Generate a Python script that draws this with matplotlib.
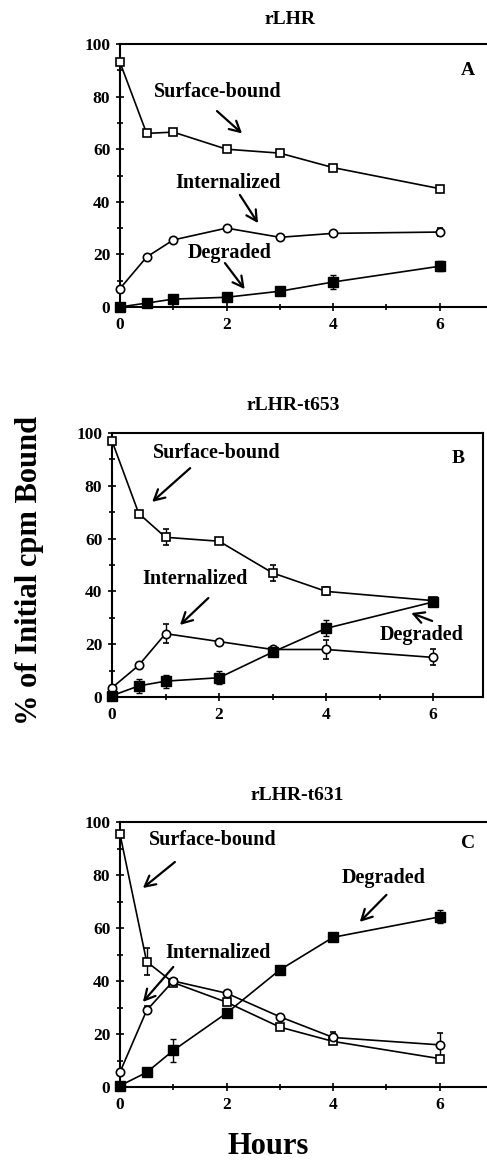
import matplotlib
matplotlib.use("Agg")
import matplotlib.pyplot as plt

plt.rcParams["font.family"] = ["Liberation Serif", "DejaVu Serif"]
plt.rcParams["font.weight"] = "bold"

# time points (hours)
hours = [0, 0.5, 1, 2, 3, 4, 6]

# panel A - rLHR
surf_A = [93, 66, 66.5, 60, 58.5, 53, 45]
surf_A_err = [1, 0, 1, 0, 0, 0, 0.5]
int_A = [7, 19, 25.5, 30, 26.5, 28, 28.5]
int_A_err = [0, 0, 0, 0, 0, 0, 1.5]
deg_A = [0, 1.5, 3, 3.7, 6, 9.5, 15.5]
deg_A_err = [0, 0.5, 1.5, 0, 0, 2.5, 2]

# panel B - rLHR-t653
surf_B = [97, 69.5, 60.5, 59, 47, 40, 36.5]
surf_B_err = [1, 1, 3, 0.5, 3, 1.5, 0]
int_B = [3.5, 12, 24, 21, 18, 18, 15]
int_B_err = [0, 0, 3.5, 0, 0, 3.5, 3]
deg_B = [0.5, 4.2, 6, 7.3, 17, 26, 36]
deg_B_err = [0, 2.5, 2.5, 2.5, 0, 3, 0.5]

# panel C - rLHR-t631
surf_C = [95.4, 47.3, 39.4, 32, 22.6, 17.2, 10.7]
surf_C_err = [0, 5, 0, 0, 0, 0, 1]
int_C = [5.6, 28.9, 40, 35.4, 26.5, 18.7, 15.9]
int_C_err = [0, 1.5, 0, 0, 0, 2, 4.5]
deg_C = [0.5, 5.5, 13.8, 27.9, 44.2, 56.5, 64.2]
deg_C_err = [0, 0, 4.5, 0, 0, 0.5, 2.5]

W, H = 487, 1160
fig = plt.figure(figsize=(W / 100, H / 100), dpi=100)


def px_axes(left, right, top, bottom):
    return fig.add_axes([left / W, 1 - bottom / H, (right - left) / W, (bottom - top) / H])


panels = [
    dict(title="rLHR", title_xy=(290, 20), box=(120, 493, 44, 307), xmax=7.0, right=False,
         surf=(surf_A, surf_A_err), intl=(int_A, int_A_err), deg=(deg_A, deg_A_err),
         notes=[("Surface-bound", (1.84, 81.7), (1.82, 74.5), (2.29, 66)),
                ("Internalized", (2.03, 47.0), (2.25, 42.6), (2.59, 31.9)),
                ("Degraded", (2.06, 20.5), (1.97, 16.7), (2.34, 6.8))],
         letter=("A", 6.53, 90)),
    dict(title="rLHR-t653", title_xy=(293, 405), box=(112, 483, 433, 697), xmax=6.93, right=True,
         surf=(surf_B, surf_B_err), intl=(int_B, int_B_err), deg=(deg_B, deg_B_err),
         notes=[("Surface-bound", (1.96, 92.4), (1.46, 86.7), (0.75, 73.9)),
                ("Internalized", (1.55, 44.7), (1.80, 37.5), (1.27, 27.3)),
                ("Degraded", (5.79, 23.5), (5.98, 28.8), (5.59, 31.8))],
         letter=("B", 6.47, 90.5)),
    dict(title="rLHR-t631", title_xy=(297, 795), box=(120, 493, 822, 1087), xmax=7.0, right=False,
         surf=(surf_C, surf_C_err), intl=(int_C, int_C_err), deg=(deg_C, deg_C_err),
         notes=[("Surface-bound", (1.75, 93.2), (1.03, 84.9), (0.43, 75.1)),
                ("Internalized", (1.84, 50.6), (1.00, 45.3), (0.43, 32.1)),
                ("Degraded", (4.94, 78.9), (5.00, 72.5), (4.50, 62.3))],
         letter=("C", 6.53, 91.7)),
]

for p in panels:
    ax = px_axes(*p["box"])
    ax.set_xlim(0, p["xmax"])
    ax.set_ylim(0, 100)

    common = dict(color="black", linewidth=1.2, capsize=2.5, elinewidth=1.0,
                  capthick=1.0, clip_on=False, zorder=3)
    ax.errorbar(hours, p["surf"][0], yerr=p["surf"][1], marker="s", markersize=6,
                markerfacecolor="white", markeredgecolor="black", markeredgewidth=1.2, **common)
    ax.errorbar(hours, p["intl"][0], yerr=p["intl"][1], marker="o", markersize=6,
                markerfacecolor="white", markeredgecolor="black", markeredgewidth=1.2, **common)
    ax.errorbar(hours, p["deg"][0], yerr=p["deg"][1], marker="s", markersize=6.5,
                markerfacecolor="black", markeredgecolor="black", **common)

    for text, txy, a0, a1 in p["notes"]:
        ax.text(txy[0], txy[1], text, ha="center", va="center", fontsize=14.5, fontweight="bold")
        ax.annotate("", xy=a1, xytext=a0,
                    arrowprops=dict(arrowstyle="->,head_length=0.75,head_width=0.4",
                                    color="black", linewidth=1.6, shrinkA=0, shrinkB=0))

    lt, lx, ly = p["letter"]
    ax.text(lx, ly, lt, ha="center", va="center", fontsize=14, fontweight="bold")

    tx, ty = p["title_xy"]
    fig.text(tx / W, 1 - ty / H, p["title"], ha="center", va="center",
             fontsize=14, fontweight="bold")

    ax.set_xticks([0, 2, 4, 6])
    ax.set_xticks([1, 3, 5], minor=True)
    ax.set_yticks([0, 20, 40, 60, 80, 100])
    ax.set_yticks([10, 30, 50, 70, 90], minor=True)
    ax.tick_params(axis="both", which="both", direction="inout", width=1.2)
    ax.tick_params(axis="both", which="major", length=6, labelsize=12.5, pad=4)
    ax.tick_params(axis="both", which="minor", length=4)
    for lab in ax.get_xticklabels() + ax.get_yticklabels():
        lab.set_fontweight("bold")
    for s in ax.spines.values():
        s.set_linewidth(1.5)
    if not p["right"]:
        ax.spines["right"].set_visible(False)
        ax.tick_params(axis="y", which="both", right=False)

fig.text(30 / W, 1 - 570 / H, "% of Initial cpm Bound", rotation=90, ha="center", va="center",
         fontsize=22, fontweight="bold")
fig.text(268 / W, 1 - 1147 / H, "Hours", ha="center", va="center", fontsize=22, fontweight="bold")

fig.savefig("out.png", dpi=100)
